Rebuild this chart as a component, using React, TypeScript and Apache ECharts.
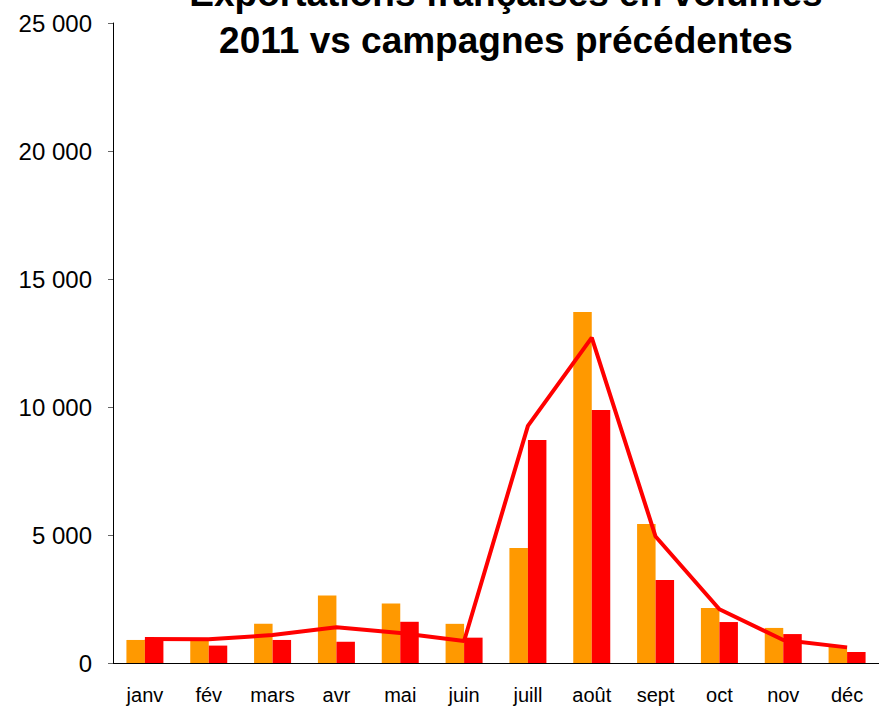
import React, { useEffect, useRef } from "react";
import * as echarts from "echarts";

const months = ["janv", "fév", "mars", "avr", "mai", "juin", "juill", "août", "sept", "oct", "nov", "déc"];
const orangeValues = [900, 900, 1530, 2640, 2320, 1530, 4490, 13710, 5430, 2150, 1370, 640];
const redValues = [940, 680, 900, 830, 1610, 990, 8710, 9880, 3240, 1600, 1130, 430];
const lineValues = [940, 930, 1090, 1400, 1170, 860, 9260, 12710, 4940, 2100, 900, 610];
const titleLines = ["Exportations françaises en volumes", "2011 vs campagnes précédentes"];

const FONT = "'Liberation Sans', Arial, sans-serif";

function fmt(v: number): string {
  return String(v).replace(/\B(?=(\d{3})+(?!\d))/g, " ");
}

export default function App() {
  const ref = useRef<HTMLDivElement>(null);
  useEffect(() => {
    if (!ref.current) return;
    const chart = echarts.init(ref.current, null, { renderer: "svg" });
    chart.setOption({
      animation: false,
      backgroundColor: "#ffffff",
      title: {
        text: titleLines.join("\n"),
        left: 501,
        top: -35,
        textAlign: "center",
        textStyle: {
          fontFamily: FONT,
          fontWeight: "bold",
          fontSize: 37,
          lineHeight: 47,
          color: "#000",
        },
      },
      grid: { left: 113, top: 23, width: 771, height: 640 },
      xAxis: {
        type: "category",
        data: months,
        axisLine: { lineStyle: { color: "#000", width: 1 } },
        axisTick: { length: 5, lineStyle: { color: "#666" } },
        axisLabel: { margin: 22, fontSize: 20, fontFamily: FONT, color: "#000" },
      },
      yAxis: {
        type: "value",
        min: 0,
        max: 25000,
        interval: 5000,
        splitLine: { show: false },
        axisLine: { show: true, lineStyle: { color: "#000", width: 1 } },
        axisTick: { show: true, length: 5, lineStyle: { color: "#666" } },
        axisLabel: {
          margin: 21,
          fontSize: 24,
          fontFamily: FONT,
          color: "#000",
          formatter: (v: number) => fmt(v),
        },
      },
      series: [
        {
          name: "2010",
          type: "bar",
          data: orangeValues,
          barWidth: 18.5,
          barGap: "0%",
          itemStyle: { color: "#FF9900" },
        },
        {
          name: "2011",
          type: "bar",
          data: redValues,
          barWidth: 18.5,
          barGap: "0%",
          itemStyle: { color: "#FF0000" },
        },
        {
          name: "Campagnes précédentes",
          type: "line",
          data: lineValues,
          showSymbol: false,
          symbol: "none",
          lineStyle: { color: "#FF0000", width: 4 },
          z: 3,
        },
      ],
    });
    return () => chart.dispose();
  }, []);
  return (
    <div
      ref={ref}
      style={{ position: "fixed", left: 0, top: 0, width: 879, height: 707, background: "#fff" }}
    />
  );
}
